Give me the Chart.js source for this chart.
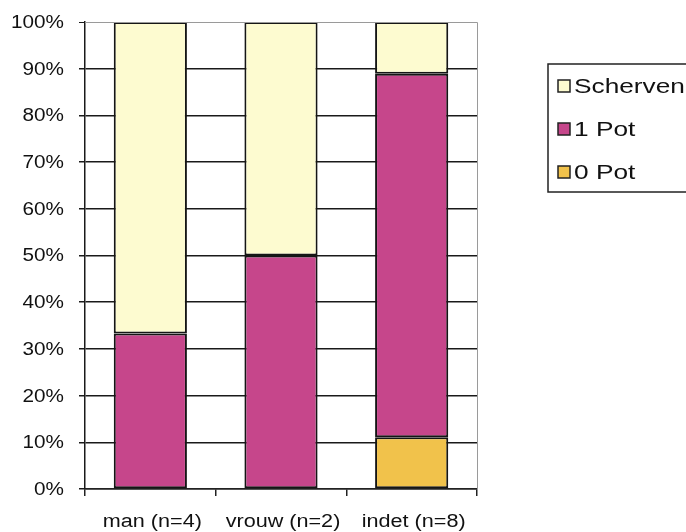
<!DOCTYPE html>
<html>
<head>
<meta charset="utf-8">
<style>
  html, body { margin: 0; padding: 0; background: #fff; }
  #wrap { width: 686px; height: 532px; position: relative; }
</style>
<script src="https://cdn.jsdelivr.net/npm/chart.js@4/dist/chart.umd.min.js"></script>
</head>
<body>
<div id="wrap"><canvas id="c" width="686" height="532"></canvas></div>
<script>
// Categories and shares (percent of each group)
const categories = ['man (n=4)', 'vrouw (n=2)', 'indet (n=8)'];
const pot0 = [0, 0, 11.1];
const pot1 = [33.3, 50, 77.8];
const scherven = [66.7, 50, 11.1];
const yTicks = [0, 10, 20, 30, 40, 50, 60, 70, 80, 90, 100];

const FONT = "'Liberation Sans', Arial, sans-serif";

// Text drawn slightly widened, in the style of the old spreadsheet output
function wideText(ctx, text, x, y, size, stretch, align) {
  ctx.save();
  ctx.font = size + 'px ' + FONT;
  ctx.textBaseline = 'middle';
  const w = ctx.measureText(text).width * stretch;
  let left = x;
  if (align === 'right') left = x - w;
  else if (align === 'center') left = x - w / 2;
  ctx.translate(left, y);
  ctx.scale(stretch, 1);
  ctx.textAlign = 'left';
  ctx.fillText(text, 0, 0);
  ctx.restore();
}

// Axis labels, plot frame and boxed legend
const decorations = {
  id: 'decorations',
  afterDraw(chart) {
    const ctx = chart.ctx;
    const area = chart.chartArea;
    const xs = chart.scales.x, ys = chart.scales.y;
    ctx.save();

    // grey top/right edge of the plot
    ctx.strokeStyle = '#9a9a9a';
    ctx.lineWidth = 1;
    ctx.beginPath();
    ctx.moveTo(area.left, area.top + 0.5);
    ctx.lineTo(area.right + 0.5, area.top + 0.5);
    ctx.lineTo(area.right + 0.5, area.bottom);
    ctx.stroke();

    // y tick labels
    ctx.fillStyle = '#111';
    yTicks.forEach(v => {
      wideText(ctx, v + '%', 64, ys.getPixelForValue(v) + 1, 18, 1.15, 'right');
    });
    // category labels
    chart.data.labels.forEach((lab, i) => {
      wideText(ctx, lab, xs.getPixelForValue(i) + 2, 522, 18, 1.2, 'center');
    });

    // legend box
    const x0 = 548, y0 = 64, w = 150, h = 128;
    ctx.strokeStyle = '#222';
    ctx.lineWidth = 1.5;
    ctx.strokeRect(x0, y0, w, h);
    const items = chart.data.datasets.slice().reverse();
    items.forEach((ds, i) => {
      const cy = 86 + i * 43;
      ctx.fillStyle = ds.backgroundColor;
      ctx.fillRect(558, cy - 6, 12, 12);
      ctx.strokeStyle = '#222';
      ctx.lineWidth = 1.5;
      ctx.strokeRect(558, cy - 6, 12, 12);
      ctx.fillStyle = '#111';
      wideText(ctx, ds.label, 574, cy + 1, 21, 1.25, 'left');
    });
    ctx.restore();
  }
};

const barCommon = {
  borderColor: '#151515',
  borderWidth: 2,
  borderSkipped: false,
  categoryPercentage: 1,
  barPercentage: 0.56
};

new Chart(document.getElementById('c'), {
  type: 'bar',
  data: {
    labels: categories,
    datasets: [
      Object.assign({ label: '0 Pot', data: pot0, backgroundColor: '#f1c24b' }, barCommon),
      Object.assign({ label: '1 Pot', data: pot1, backgroundColor: '#c6468b' }, barCommon),
      Object.assign({ label: 'Scherven', data: scherven, backgroundColor: '#fdfbd0' }, barCommon)
    ]
  },
  options: {
    responsive: false,
    animation: false,
    layout: { padding: { top: 22, right: 209, left: 0, bottom: 0 } },
    plugins: {
      legend: { display: false },
      tooltip: { enabled: false }
    },
    scales: {
      x: {
        stacked: true,
        grid: {
          offset: true,
          drawOnChartArea: false,
          drawTicks: true,
          tickLength: 7,
          color: '#222',
          lineWidth: 1.5
        },
        border: { display: true, color: '#222', width: 1.5 },
        ticks: { display: false },
        afterFit(scale) { scale.height = 43; }
      },
      y: {
        stacked: true,
        min: 0,
        max: 100,
        afterBuildTicks(scale) {
          scale.ticks = yTicks.map(v => ({ value: v }));
        },
        grid: {
          color: ctx => (ctx.tick && ctx.tick.value === 100 ? '#9a9a9a' : '#1a1a1a'),
          lineWidth: ctx => (ctx.tick && ctx.tick.value === 100 ? 1 : 1.5),
          drawTicks: true,
          tickLength: 6,
          tickColor: '#1a1a1a'
        },
        border: { display: true, color: '#1a1a1a', width: 1.5 },
        ticks: { display: false },
        afterFit(scale) { scale.width = 85; }
      }
    }
  },
  plugins: [decorations]
});
</script>
</body>
</html>
